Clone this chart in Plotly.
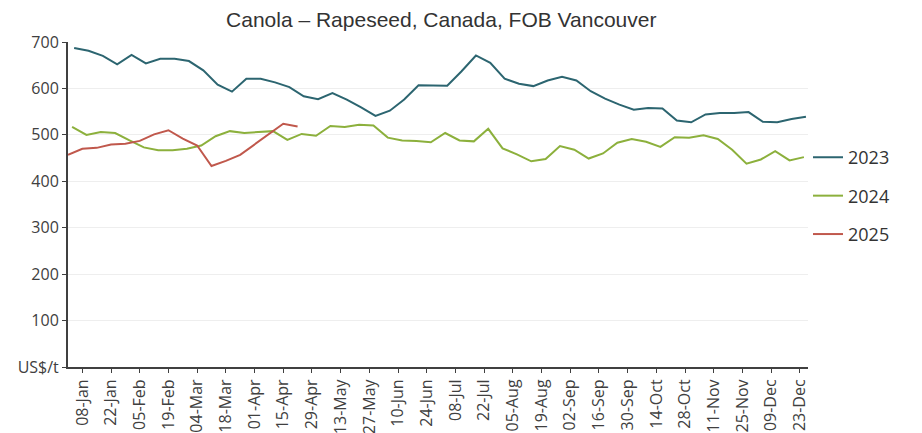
import pandas as pd
import plotly.graph_objects as go

# weekly prices (US$/t), each year drawn on a common Jan-Dec axis
start_2023 = "2024-01-04"
start_2024 = "2024-01-03"
start_2025 = "2024-01-01"

price_2023 = [687, 681, 670, 652, 672, 654, 664, 664, 659, 639, 608, 593,
              621, 621, 613, 603, 583, 577, 590, 576, 559, 541, 552, 576,
              607, 607, 606, 637, 671, 655, 621, 610, 605, 617, 625, 617,
              594, 578, 565, 554, 558, 557, 531, 527, 544, 547, 547, 549,
              528, 527, 534, 539]
price_2024 = [517, 500, 506, 504, 488, 473, 467, 467, 470, 477, 497, 508,
              504, 506, 508, 489, 502, 498, 519, 517, 522, 520, 494, 488,
              487, 484, 504, 488, 486, 513, 471, 458, 443, 448, 476, 468,
              449, 460, 483, 491, 485, 474, 495, 494, 499, 491, 468, 438,
              447, 465, 445, 452]
price_2025 = [457, 470, 472, 479, 481, 487, 501, 510, 492, 477, 433, 444,
              457, 480, 503, 524, 518]

series = [
    ("2023", start_2023, price_2023, "#2c6570"),
    ("2024", start_2024, price_2024, "#8cb03c"),
    ("2025", start_2025, price_2025, "#c0584c"),
]

fig = go.Figure()
for name, start, values, color in series:
    dates = pd.date_range(start, periods=len(values), freq="7D")
    fig.add_trace(go.Scatter(
        x=dates, y=values, mode="lines", name=name, legendgroup=name,
        line=dict(color=color, width=2),
        hovertemplate=name + " %{x|%d-%b}: %{y} US$/t<extra></extra>"
    ))

# the page body adds an 8px margin, so the figure is sized to fit what's left
fig.update_layout(
    title=dict(text="Canola – Rapeseed, Canada, FOB Vancouver",
               x=0.474, xanchor="center", y=0.972, yanchor="middle",
               font=dict(family="Liberation Sans", size=21, color="#333333")),
    width=914, height=425,
    margin=dict(l=60, r=114, t=34, b=66),
    plot_bgcolor="white", paper_bgcolor="white",
    font=dict(family="Open Sans", size=16, color="#404040"),
    showlegend=True,
    legend=dict(x=1.0, xanchor="left", y=0.526, yanchor="middle",
                tracegroupgap=12, font=dict(size=18, color="#333333"),
                itemwidth=30),
)

fig.update_xaxes(
    type="date", range=["2024-01-01", "2024-12-27"],
    tick0="2024-01-08", dtick=14 * 86400000, tickformat="%d-%b",
    tickangle=-90, showgrid=False, showline=True, linecolor="#404040",
    linewidth=2, ticks="outside", ticklen=4, tickcolor="#404040",
    tickfont=dict(size=16), automargin=False,
)
fig.update_yaxes(
    range=[0, 700], tickvals=[0, 100, 200, 300, 400, 500, 600, 700],
    ticktext=["US$/t", "100", "200", "300", "400", "500", "600", "700"],
    showgrid=True, gridcolor="#eeeeee", gridwidth=1, zeroline=False,
    showline=True, linecolor="#404040", linewidth=2,
    ticks="outside", ticklen=4, tickcolor="#404040", tickfont=dict(size=16),
    automargin=False,
)

fig.write_html("out.html")
